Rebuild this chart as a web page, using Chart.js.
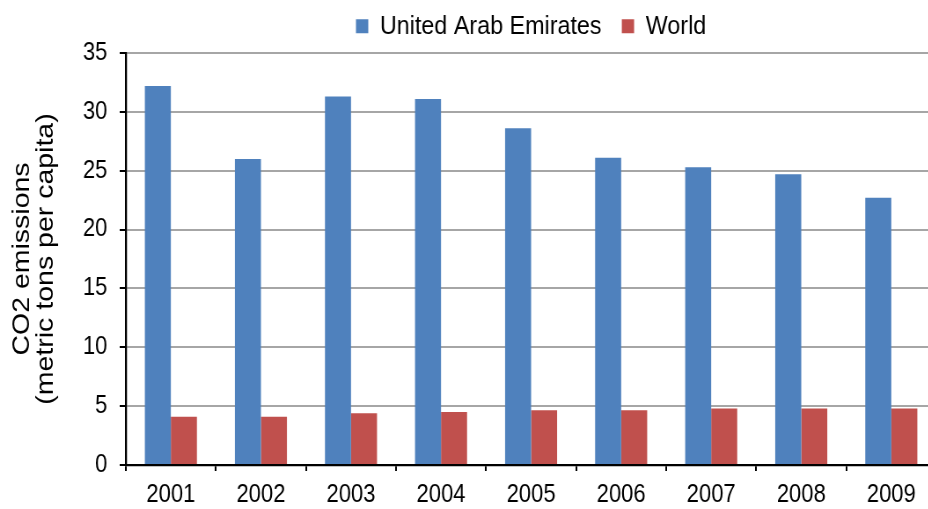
<!DOCTYPE html>
<html>
<head>
<meta charset="utf-8">
<script src="https://cdn.jsdelivr.net/npm/chart.js@4/dist/chart.umd.min.js"></script>
<style>
  html, body { margin: 0; padding: 0; background: #fff; overflow: hidden; }
  /* drawn wide, then narrowed so the type reads condensed */
  #wrap { width: 1064px; height: 509px; transform: scaleX(0.88); transform-origin: 0 0; }
</style>
</head>
<body>
<div id="wrap"><canvas id="co2Chart"></canvas></div>
<script>
const years = ['2001', '2002', '2003', '2004', '2005', '2006', '2007', '2008', '2009'];
const uaeValues = [32.2, 26.0, 31.3, 31.1, 28.6, 26.1, 25.3, 24.7, 22.7];
const worldValues = [4.1, 4.1, 4.4, 4.5, 4.65, 4.65, 4.8, 4.8, 4.8];
const yTicks = [0, 5, 10, 15, 20, 25, 30, 35];

const fontFamily = '"Liberation Sans", Arial, Helvetica, sans-serif';

// a little extra room between the legend and the plot
const legendGap = {
  id: 'legendGap',
  beforeInit(chart) {
    const fit = chart.legend.fit;
    chart.legend.fit = function () {
      fit.call(this);
      this.height += 3.5;
    };
  }
};

const ctx = document.getElementById('co2Chart').getContext('2d');

new Chart(ctx, {
  type: 'bar',
  data: {
    labels: years,
    datasets: [
      {
        label: 'United Arab Emirates',
        data: uaeValues,
        backgroundColor: '#4F81BD',
        categoryPercentage: 0.578,
        barPercentage: 1.0
      },
      {
        label: 'World',
        data: worldValues,
        backgroundColor: '#C0504D',
        categoryPercentage: 0.578,
        barPercentage: 1.0
      }
    ]
  },
  plugins: [legendGap],
  options: {
    responsive: true,
    maintainAspectRatio: false,
    animation: false,
    layout: {
      padding: { top: -10, right: 0, bottom: 0, left: 0 }
    },
    plugins: {
      tooltip: { enabled: false },
      legend: {
        position: 'top',
        fullSize: false,
        labels: {
          color: '#000',
          boxWidth: 14,
          boxHeight: 14,
          padding: 23,
          font: { family: fontFamily, size: 26.5 }
        }
      }
    },
    scales: {
      x: {
        afterFit: (scale) => {
          scale.height = 44;
        },
        grid: {
          offset: true,
          drawOnChartArea: false,
          tickColor: '#000',
          tickLength: 6,
          lineWidth: 2
        },
        border: { color: '#000', width: 2.3 },
        ticks: {
          color: '#000',
          padding: 12,
          font: { family: fontFamily, size: 25, lineHeight: 1 }
        }
      },
      y: {
        min: 0,
        max: 35,
        afterBuildTicks: (scale) => {
          scale.ticks = yTicks.map(v => ({ value: v }));
        },
        afterFit: (scale) => {
          scale.width = 143;
        },
        grid: {
          color: '#a6a6a6',
          lineWidth: 2,
          tickColor: '#000',
          tickLength: 7
        },
        border: { color: '#000', width: 2.3 },
        ticks: {
          color: '#000',
          padding: 14,
          font: { family: fontFamily, size: 25 }
        },
        title: {
          display: true,
          text: ['CO2 emissions', '(metric tons per capita)'],
          color: '#000',
          padding: { top: 12, bottom: 0 },
          font: { family: fontFamily, size: 28.5, lineHeight: 0.95 }
        }
      }
    }
  }
});
</script>
</body>
</html>
